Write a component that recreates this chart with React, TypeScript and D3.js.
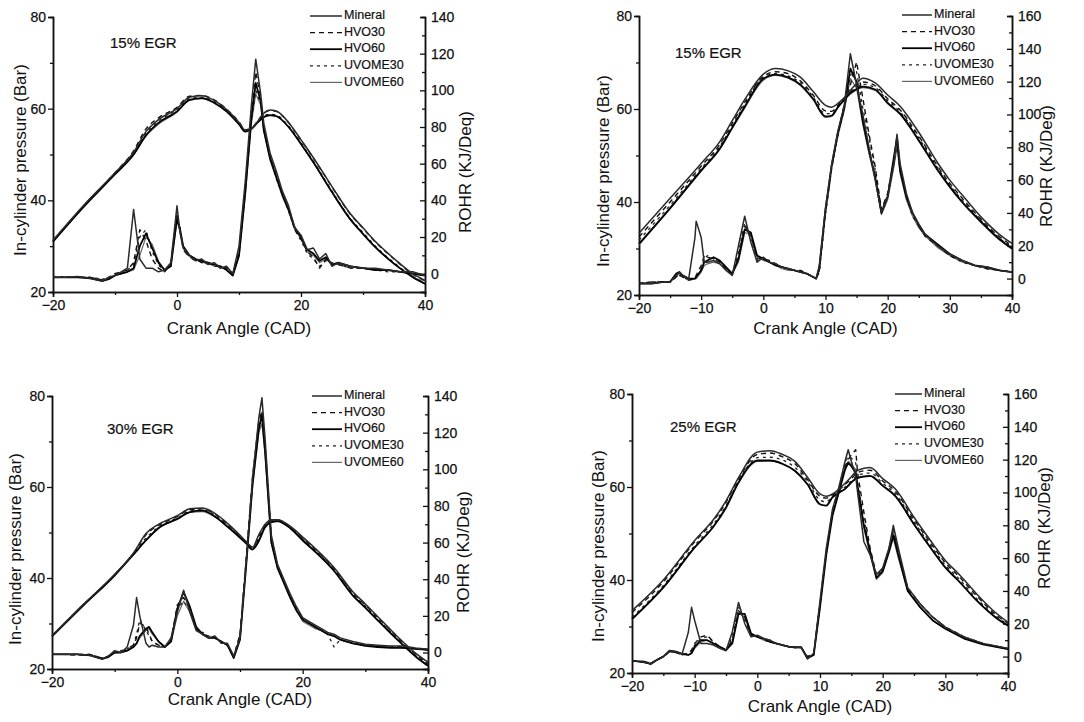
import React, { useRef, useEffect } from "react";
import * as d3 from "d3";

// ---- shared ----
const seriesNames = ["Mineral", "HVO30", "HVO60", "UVOME30", "UVOME60"];
const pressureCAD = [-20, -15, -10, -7, -5, -3, 0, 2, 4, 6, 8, 10, 11, 12, 13, 14, 15, 16, 18, 20, 22, 25, 28, 30, 32, 35, 38, 40];

// ---- panel 1 : 15% EGR (left) ----
const p1Pressure = [
  [31.3, 39, 46, 50.5, 55, 57.6, 60, 62.5, 62.8, 61.8, 59.8, 57, 55.3, 55.6, 57.2, 59, 59.7, 59.5, 57, 53.2, 49.3, 43, 37, 34, 31, 27.3, 24, 22.5],
  [31.2, 38.9, 46, 50.8, 55.6, 58, 60.3, 62.7, 62.9, 61.9, 59.9, 57.1, 55.4, 55.7, 57.3, 59, 59.6, 59.4, 56.9, 53.1, 49.2, 42.9, 36.9, 33.9, 30.9, 27.2, 23.9, 22.4],
  [31, 38.7, 45.7, 50, 54.2, 56.9, 59.4, 61.9, 62.3, 61.3, 59.4, 56.6, 55, 55.6, 57, 58.2, 58.6, 58.4, 56, 52.3, 48.3, 41.8, 35.8, 32.7, 29.8, 26.2, 23.3, 21.8],
  [31.1, 38.8, 45.8, 50.2, 54.6, 57.3, 59.8, 62.2, 62.5, 61.5, 59.6, 56.8, 55.1, 55.7, 57.1, 58.4, 58.8, 58.6, 56.2, 52.5, 48.5, 42, 36, 33, 30, 26.4, 23.4, 21.9],
  [31, 38.6, 45.6, 49.9, 54, 56.6, 59.2, 61.8, 62.2, 61.2, 59.3, 56.5, 55, 55.5, 56.9, 58.1, 58.5, 58.3, 55.9, 52.2, 48.2, 41.7, 35.7, 32.6, 29.7, 26.1, 23.2, 21.7],
];
const p1RohrCAD = [-20, -18, -16, -14, -12, -11, -10, -9, -8, -7, -6, -5, -4, -3, -2, -1, 0, 0.5, 1, 2, 3, 4, 5, 6, 7, 8, 9, 10, 11, 12, 12.7, 13.5, 14, 15, 16, 17, 18, 19, 20, 21, 22, 23, 24, 25, 26, 28, 30, 32, 34, 36, 38, 40];
const p1Rohr = [
  [-2, -2, -1.5, -2.5, -4, -2, -1, 1, 3, 35, 8, 3, 3, 1, 2, 6, 37, 22, 14, 10, 7, 8, 5, 6, 3, 4, 0, 15, 50, 92, 117, 98, 82, 66, 56, 45, 37, 25, 21, 13, 14, 8, 11, 4, 6, 4, 3, 3, 2, 1, 1, -1],
  [-2, -2, -2, -2, -3.5, -2, 0, 1, 2, 6, 24, 18, 8, 3, 1, 5, 33, 24, 13, 9, 8, 6, 6, 4, 4, 3, 0, 12, 46, 88, 110, 96, 80, 64, 54, 44, 35, 24, 19, 12, 9, 3, 8, 5, 5, 3, 3, 2, 2, 1, 0, -1],
  [-2, -2, -2, -2.5, -4, -3, -1, 0, 1, 3, 15, 22, 14, 6, 2, 4, 30, 24, 15, 10, 8, 7, 6, 5, 4, 2, -1, 10, 44, 85, 104, 94, 78, 63, 53, 43, 35, 25, 20, 13, 11, 7, 9, 5, 6, 4, 3, 2, 2, 1, 0, -1],
  [-2, -1.5, -2, -2, -3, -2, 0, 0, 2, 5, 20, 24, 12, 5, 1, 5, 31, 25, 14, 9, 7, 7, 5, 5, 3, 3, 0, 11, 45, 84, 100, 93, 79, 64, 52, 43, 34, 24, 18, 11, 8, 4, 7, 6, 5, 3, 3, 2, 1, 1, 0, -1],
  [-2, -2, -2, -2, -3.5, -2.5, -1, 0, 1, 2, 10, 20, 16, 7, 2, 4, 29, 23, 15, 10, 8, 6, 6, 4, 4, 2, -1, 9, 42, 82, 98, 92, 78, 62, 52, 42, 34, 24, 19, 12, 10, 6, 8, 5, 5, 4, 3, 2, 2, 1, 0, -1],
];

// ---- panel 2 : 15% EGR (right) ----
const p2Pressure = [
  [33.3, 40.8, 48.3, 53, 57.5, 62, 67.5, 68.7, 68.2, 66.8, 63.8, 60.8, 60.4, 61.2, 62.4, 64, 65.5, 66.6, 65.6, 63, 60.6, 55, 48.5, 44.7, 41.5, 36.8, 33, 31.1],
  [32.5, 40, 47.7, 52.4, 56.9, 61.4, 67, 68, 67.6, 66, 63, 59.6, 59.5, 60.8, 62.2, 63.6, 65, 65.8, 65, 62.2, 59.8, 54.2, 47.8, 44, 40.8, 36.3, 32.5, 30.6],
  [31, 38.7, 46.8, 51.5, 56, 60.5, 66.5, 67.4, 66.8, 65.2, 62.2, 58.4, 58.6, 60.4, 62, 63.4, 64.3, 64.8, 64.2, 61.3, 59, 53.3, 47, 43.3, 40, 35.8, 32, 30],
  [31.8, 39.3, 47.2, 52, 56.4, 61, 66.8, 67.6, 67.1, 65.6, 62.6, 59, 59, 60.6, 62, 63.5, 64.6, 65.3, 64.6, 61.8, 59.4, 53.8, 47.4, 43.6, 40.4, 36, 32.2, 30.3],
  [30.8, 38.5, 46.6, 51.3, 55.8, 60.2, 66.2, 67.2, 66.6, 65, 62, 58.2, 58.4, 60.3, 61.8, 63.2, 64.1, 64.6, 64, 61.1, 58.8, 53.1, 46.8, 43.1, 39.8, 35.6, 31.8, 29.9],
];
const p2RohrCAD = [-20, -18, -16, -15, -14, -13.5, -13, -12, -11, -10.8, -10, -9.5, -9, -8, -7, -6, -5, -4, -3, -2, -1, 0, 1, 2, 3, 4, 5, 6, 7, 8, 8.5, 9, 10, 11, 12, 13, 14, 15, 16, 17, 18, 19, 20, 21, 21.5, 22, 23, 24, 25, 26, 28, 30, 32, 34, 36, 38, 40];
const p2Rohr = [
  [-3, -3, -2, -2, 2, 4, 2, 0, 25, 35, 25, 10, 10, 11, 9, 5, 2, 20, 38, 22, 10, 13, 10, 9, 7, 6, 5, 4, 3, 1, 0, 8, 43, 70, 90, 105, 137, 118, 100, 80, 60, 40, 50, 70, 88, 70, 52, 40, 33, 27, 20, 15, 11, 8, 7, 5, 4],
  [-3, -2, -2, -2, 1, 3, 1, -1, 0, 2, 8, 14, 13, 12, 10, 6, 2, 14, 32, 26, 12, 12, 11, 9, 7, 6, 5, 5, 3, 1, 0, 5, 40, 68, 88, 106, 118, 132, 110, 88, 68, 42, 52, 72, 84, 68, 50, 40, 32, 26, 20, 14, 11, 8, 6, 5, 4],
  [-3, -3, -2, -2, 3, 4, 2, 0, 0, 1, 5, 10, 11, 13, 11, 7, 3, 12, 30, 28, 14, 12, 10, 8, 7, 6, 5, 4, 3, 1, 0, 6, 42, 69, 89, 104, 128, 120, 96, 78, 62, 40, 50, 74, 86, 66, 50, 40, 33, 27, 21, 15, 11, 8, 7, 5, 4],
  [-3, -2, -2, -2, 1, 2, 1, -1, 0, 1, 6, 12, 14, 12, 10, 6, 2, 16, 34, 24, 11, 13, 10, 9, 7, 6, 5, 4, 3, 1, 0, 4, 39, 67, 88, 103, 124, 126, 104, 86, 66, 41, 51, 70, 82, 66, 50, 38, 32, 26, 20, 14, 10, 8, 6, 5, 4],
  [-3, -3, -2, -2, 2, 3, 1, 0, 0, 0, 4, 8, 9, 10, 9, 6, 3, 10, 28, 27, 13, 11, 10, 8, 6, 5, 5, 4, 3, 1, 0, 5, 41, 68, 87, 102, 122, 116, 94, 76, 60, 39, 48, 68, 80, 64, 48, 38, 31, 26, 19, 14, 10, 8, 6, 5, 4],
];

// ---- panel 3 : 30% EGR ----
const p3Pressure = [
  [27.3, 34.2, 40.8, 45.5, 49.8, 51.8, 53.7, 55.2, 55.4, 54.2, 52, 49.4, 48, 46.8, 49.5, 51.8, 52.8, 52.8, 51.4, 49, 46.5, 42.3, 37, 34.3, 31.5, 27.3, 23.5, 21.5],
  [27.3, 34.1, 40.7, 45.4, 49.5, 51.6, 53.5, 55, 55.2, 54, 51.8, 49.2, 47.9, 46.7, 49.2, 51.6, 52.7, 52.7, 51.3, 48.8, 46.3, 42.1, 36.8, 34.1, 31.3, 27.1, 23.3, 21.3],
  [27.2, 34, 40.6, 45.2, 48.3, 51, 53, 54.5, 54.8, 53.5, 51.3, 48.9, 47.6, 46.3, 48.2, 51.2, 52.3, 52.5, 51, 48.3, 45.8, 41.6, 36.2, 33.5, 30.7, 26.6, 22.8, 20.7],
  [27.2, 34, 40.6, 45.3, 48.8, 51.2, 53.2, 54.7, 55, 53.8, 51.5, 49, 47.8, 46.5, 48.8, 51.4, 52.5, 52.6, 51.1, 48.5, 46, 41.8, 36.5, 33.8, 31, 26.8, 23, 21],
  [27.1, 33.9, 40.5, 45.1, 48.2, 50.9, 52.9, 54.4, 54.6, 53.4, 51.2, 48.8, 47.5, 46.2, 48, 51, 52.2, 52.4, 50.9, 48.2, 45.7, 41.5, 36.1, 33.4, 30.6, 26.5, 22.7, 20.6],
];
const p3RohrCAD = [-20, -18, -16, -14, -12, -11, -10, -9, -8, -7, -6.5, -6, -5, -4.5, -4, -3, -2, -1, 0, 1, 2, 3, 4, 5, 6, 7, 8, 9, 10, 11, 12, 13, 13.5, 14, 15, 16, 17, 18, 19, 20, 21, 22, 23, 24, 25, 26, 28, 30, 32, 34, 36, 38, 40];
const p3Rohr = [
  [-1, -1, -1, -1.5, -3.6, -2, 1, 0, 3, 15, 30, 20, 5, 3, 4, 3, 3, 8, 22, 34, 22, 12, 10, 8, 9, 5, 5, -2, 8, 50, 95, 128, 139, 117, 64, 48, 40, 32, 25, 19, 17, 15, 13, 11, 10, 8, 6, 4.5, 4, 3.6, 3.6, 2.5, 1.8],
  [-1, -1, -1.5, -1, -3, -2, 0, 0, 2, 4, 8, 16, 14, 10, 6, 4, 3, 7, 26, 30, 24, 13, 10, 9, 8, 6, 4, -2, 10, 52, 96, 126, 132, 112, 62, 47, 39, 31, 24, 18, 16, 14, 12, 10, 9, 7, 5, 4, 3.5, 3, 3, 2, 1.5],
  [-1, -1, -1, -1.5, -3.5, -2.5, 0, 0, 1, 3, 5, 9, 13, 14, 11, 6, 3, 6, 24, 33, 25, 14, 10, 8, 8, 6, 4, -3, 7, 48, 92, 122, 130, 110, 60, 46, 38, 30, 23, 18, 16, 14, 12, 10, 9, 7, 5, 3.6, 3, 2.5, 2.5, 2, 1.5],
  [-1, -1, -1, -1, -3, -2, 0, 1, 2, 4, 10, 18, 12, 9, 6, 4, 3, 7, 24, 28, 23, 13, 11, 9, 8, 6, 4, -2, 9, 50, 94, 124, 128, 114, 63, 47, 39, 31, 24, 18, 16, 14, 12, 10, 3, 7, 5, 4, 3.5, 3, 3, 2, 1.5],
  [-1, -1, -1, -1.5, -3.5, -2, 0, 0, 1, 3, 5, 8, 12, 13, 10, 6, 3, 6, 20, 28, 22, 13, 10, 8, 8, 6, 4, -2, 8, 49, 90, 120, 125, 108, 60, 46, 38, 30, 23, 17, 15, 13, 12, 10, 9, 7, 5, 4, 3, 3, 2.5, 2, 1.8],
];

// ---- panel 4 : 25% EGR ----
const p4Pressure = [
  [33.4, 40, 48.5, 53, 57, 62, 67.5, 67.8, 67, 65.5, 62.1, 58.5, 58, 58.5, 59.5, 60.8, 62.2, 63.6, 64.2, 61.8, 59.6, 53.5, 47.8, 44.2, 41.5, 37, 33, 30.9],
  [33, 39.6, 48.2, 52.7, 56.7, 61.7, 67, 67.3, 66.5, 65, 61.6, 58, 57.6, 58.3, 59.3, 60.5, 61.8, 63.1, 63.6, 61.3, 59.1, 53, 47.3, 43.7, 41, 36.6, 32.6, 30.7],
  [31.6, 38.4, 47, 51.5, 55.6, 61, 65.7, 65.7, 65, 63.5, 60.6, 56.3, 56, 57.8, 58.8, 59.6, 61, 62, 62.4, 60.3, 58.1, 52, 46.3, 42.7, 40, 35.6, 32, 30.2],
  [32, 38.8, 47.4, 52, 56, 61.2, 66.3, 66.4, 65.8, 64.2, 61.2, 57.2, 56.8, 58, 59, 60, 61.3, 62.5, 63, 60.8, 58.6, 52.5, 46.8, 43.2, 40.5, 36, 32.3, 30.4],
  [31.5, 38.3, 46.9, 51.4, 55.4, 60.8, 65.5, 65.6, 64.9, 63.4, 60.5, 56.2, 56, 57.7, 58.7, 59.5, 60.9, 61.9, 62.3, 60.2, 58, 51.9, 46.2, 42.6, 39.9, 35.5, 31.9, 30.1],
];
const p4RohrCAD = [-20, -18, -17, -16, -15, -14, -13, -12, -11, -10.5, -10, -9, -8, -7, -6, -5, -4, -3, -2, -1, 0, 1, 2, 3, 4, 5, 6, 7, 8, 9, 10, 11, 12, 13, 14, 14.5, 15, 15.7, 16, 17, 18, 19, 20, 21, 21.7, 22.5, 24, 26, 28, 30, 33, 36, 40];
const p4Rohr = [
  [-2.4, -3.5, -4.5, -2, 0, 3.6, 3, 1.6, 15, 30, 22, 8, 8, 7, 5, 3.6, 15, 33, 20, 12, 13, 11, 10, 8, 7, 6, 5.7, 5.7, -1.4, 2, 34, 66, 90, 103, 119, 126, 119, 110, 100, 70, 62, 50, 54, 66, 80, 66, 42, 32, 24, 18, 12, 8, 5],
  [-2.4, -3, -4, -2, 0, 3, 2.5, 1, 2, 4, 8, 12, 13, 9, 6, 4, 10, 28, 24, 13, 12, 11, 10, 8, 7, 6, 5.5, 5.5, 0, 2, 32, 64, 88, 102, 116, 120, 123, 126, 112, 88, 66, 50, 53, 65, 78, 64, 41, 32, 24, 18, 12, 8, 5],
  [-2.4, -3.5, -4.5, -2, 0, 3.6, 3, 1.6, 1, 2, 6, 10, 10, 8, 6, 4, 8, 26, 26, 14, 12, 11, 9, 8, 7, 6, 5.7, 5.7, -1, 1, 30, 62, 86, 100, 114, 118, 116, 112, 104, 80, 64, 48, 52, 64, 74, 62, 40, 30, 22, 17, 11, 7.5, 4.5],
  [-2.4, -3, -4, -2, 0, 3, 2.5, 1, 2, 3, 7, 11, 12, 9, 6, 4, 12, 30, 22, 12, 13, 10, 9, 8, 7, 6, 5.5, 5.5, -0.5, 2, 33, 65, 89, 102, 118, 122, 121, 118, 106, 84, 64, 49, 53, 66, 76, 64, 42, 32, 24, 18, 12, 8, 5],
  [-2.4, -3.5, -4.5, -2, 0, 3, 2.5, 1.5, 1, 2, 5, 9, 10, 8, 6, 4, 9, 27, 24, 13, 12, 10, 9, 8, 7, 6, 5.5, 5.5, -1, 1, 31, 63, 87, 101, 115, 119, 117, 114, 102, 78, 62, 47, 51, 63, 72, 60, 40, 30, 22, 17, 11, 7.5, 4.5],
];

// line look per series
const lineStyles = [
  { color: "#2a2a2a", width: 1.5, dash: null },
  { color: "#111", width: 1.4, dash: "5,4" },
  { color: "#000", width: 1.8, dash: null },
  { color: "#222", width: 1.3, dash: "3,4" },
  { color: "#666", width: 1.2, dash: null },
];

const panels = [
  {
    egr: "15% EGR", rohrTitle: "ROHR (KJ/Deq)",
    l: 53, r: 425, t: 17, b: 292, rohrMin: -10, rohrMax: 140, xStep: 20,
    pressure: p1Pressure, rohrCAD: p1RohrCAD, rohr: p1Rohr,
    label: [110, 44], legend: [310, 16, 32], yTitle: [22, 160], rTitle: [467, 172], xTitleY: 330,
  },
  {
    egr: "15% EGR", rohrTitle: "ROHR (KJ/Deg)",
    l: 639, r: 1012, t: 16, b: 295, rohrMin: -10, rohrMax: 160, xStep: 10,
    pressure: p2Pressure, rohrCAD: p2RohrCAD, rohr: p2Rohr,
    label: [675, 54], legend: [902, 15, 30], yTitle: [605, 171], rTitle: [1048, 166], xTitleY: 330,
  },
  {
    egr: "30% EGR", rohrTitle: "ROHR (KJ/Deg)",
    l: 52, r: 428, t: 396, b: 669, rohrMin: -9, rohrMax: 140, xStep: 20,
    pressure: p3Pressure, rohrCAD: p3RohrCAD, rohr: p3Rohr,
    label: [107, 430], legend: [312, 396, 30], yTitle: [17, 549], rTitle: [465, 552], xTitleY: 701,
  },
  {
    egr: "25% EGR", rohrTitle: "ROHR (KJ/Deg)",
    l: 632, r: 1008, t: 394, b: 673, rohrMin: -10, rohrMax: 160, xStep: 10,
    pressure: p4Pressure, rohrCAD: p4RohrCAD, rohr: p4Rohr,
    label: [670, 428], legend: [895, 394, 27], yTitle: [600, 546], rTitle: [1046, 528], xTitleY: 708,
  },
];

const FONT = "'Liberation Sans', Arial, sans-serif";

export default function App() {
  const ref = useRef<SVGSVGElement | null>(null);

  useEffect(() => {
    const svg = d3.select(ref.current);
    svg.selectAll("*").remove();

    panels.forEach((p) => {
      const g = svg.append("g");
      const x = d3.scaleLinear().domain([-20, 40]).range([p.l, p.r]);
      const yP = d3.scaleLinear().domain([20, 80]).range([p.b, p.t]);
      const yR = d3.scaleLinear().domain([p.rohrMin, p.rohrMax]).range([p.b, p.t]);

      // axes
      const axisStyle = (sel: any) => {
        sel.select(".domain").attr("stroke", "#111").attr("stroke-width", 1.5);
        sel.selectAll(".tick line").attr("stroke", "#111").attr("stroke-width", 1.3);
        sel.selectAll(".tick text")
          .attr("fill", "#111")
          .attr("stroke", "#111").attr("stroke-width", 0.25)
          .style("font-family", FONT).style("font-size", "14px");
      };

      const xMajor = d3.range(-20, 40.1, p.xStep);
      const xMinor = d3.range(-20, 40.1, p.xStep / 2).filter((v) => !xMajor.includes(v));
      g.append("g").attr("transform", `translate(0,${p.b})`)
        .call(d3.axisBottom(x).tickValues(xMinor).tickSize(3).tickFormat(() => ""))
        .call(axisStyle);
      g.append("g").attr("transform", `translate(0,${p.b})`)
        .call(d3.axisBottom(x).tickValues(xMajor).tickSize(5).tickPadding(3).tickFormat(d3.format("d")))
        .call(axisStyle);

      g.append("g").attr("transform", `translate(${p.l},0)`)
        .call(d3.axisLeft(yP).tickValues([30, 50, 70]).tickSize(3).tickFormat(() => ""))
        .call(axisStyle);
      g.append("g").attr("transform", `translate(${p.l},0)`)
        .call(d3.axisLeft(yP).tickValues([20, 40, 60, 80]).tickSize(5).tickPadding(2).tickFormat(d3.format("d")))
        .call(axisStyle);

      // right axis: ticks point inward like the original
      const rMajor = d3.range(0, p.rohrMax + 0.1, 20);
      const rMinor = d3.range(10, p.rohrMax, 20);
      g.append("g").attr("transform", `translate(${p.r},0)`)
        .call(d3.axisRight(yR).tickValues(rMinor).tickSize(-3).tickFormat(() => ""))
        .call(axisStyle);
      g.append("g").attr("transform", `translate(${p.r},0)`)
        .call(d3.axisRight(yR).tickValues(rMajor).tickSize(-5).tickPadding(6).tickFormat(d3.format("d")))
        .call(axisStyle);

      const pLine = d3.line<number>()
        .x((_, i) => x(pressureCAD[i]))
        .y((d) => yP(d))
        .curve(d3.curveMonotoneX);
      const rLine = d3.line<number>()
        .x((_, i) => x(p.rohrCAD[i]))
        .y((d) => yR(d))
        .curve(d3.curveLinear);

      [4, 3, 2, 1, 0].forEach((si) => {
        const st = lineStyles[si];
        const draw = (dStr: string | null) => {
          const path = g.append("path")
            .attr("d", dStr)
            .attr("fill", "none")
            .attr("stroke", st.color)
            .attr("stroke-width", st.width)
            .attr("stroke-linejoin", "round");
          if (st.dash) path.attr("stroke-dasharray", st.dash);
        };
        draw(pLine(p.pressure[si]));
        draw(rLine(p.rohr[si]));
      });

      // legend
      const [lx, ly, lw] = p.legend;
      seriesNames.forEach((name, i) => {
        const st = lineStyles[i];
        const yy = ly + i * 16.6;
        const ln = g.append("line")
          .attr("x1", lx).attr("x2", lx + lw)
          .attr("y1", yy).attr("y2", yy)
          .attr("stroke", st.color)
          .attr("stroke-width", st.width);
        if (st.dash) ln.attr("stroke-dasharray", st.dash);
        g.append("text")
          .attr("x", lx + lw + 2).attr("y", yy)
          .attr("dominant-baseline", "middle")
          .style("font-family", FONT).style("font-size", "12.5px")
          .attr("fill", "#111").attr("stroke", "#111").attr("stroke-width", 0.2)
          .text(name);
      });

      // EGR label
      g.append("text")
        .attr("x", p.label[0]).attr("y", p.label[1])
        .attr("dominant-baseline", "middle")
        .style("font-family", FONT).style("font-size", "15px")
        .attr("fill", "#111").attr("stroke", "#111").attr("stroke-width", 0.2)
        .text(p.egr);

      // axis titles
      g.append("text")
        .attr("x", (p.l + p.r) / 2).attr("y", p.xTitleY)
        .attr("text-anchor", "middle").attr("dominant-baseline", "middle")
        .style("font-family", FONT).style("font-size", "17px")
        .attr("fill", "#111")
        .text("Crank Angle (CAD)");
      g.append("text")
        .attr("transform", `translate(${p.yTitle[0]},${p.yTitle[1]}) rotate(-90)`)
        .attr("text-anchor", "middle").attr("dominant-baseline", "middle")
        .style("font-family", FONT).style("font-size", "17px")
        .attr("fill", "#111")
        .text("In-cylinder pressure (Bar)");
      g.append("text")
        .attr("transform", `translate(${p.rTitle[0]},${p.rTitle[1]}) rotate(-90)`)
        .attr("text-anchor", "middle").attr("dominant-baseline", "middle")
        .style("font-family", FONT).style("font-size", "17px")
        .attr("fill", "#111")
        .text(p.rohrTitle);
    });
  }, []);

  return (
    <svg
      ref={ref}
      width={1084}
      height={722}
      style={{ position: "absolute", left: 0, top: 0, background: "#fff" }}
    />
  );
}
